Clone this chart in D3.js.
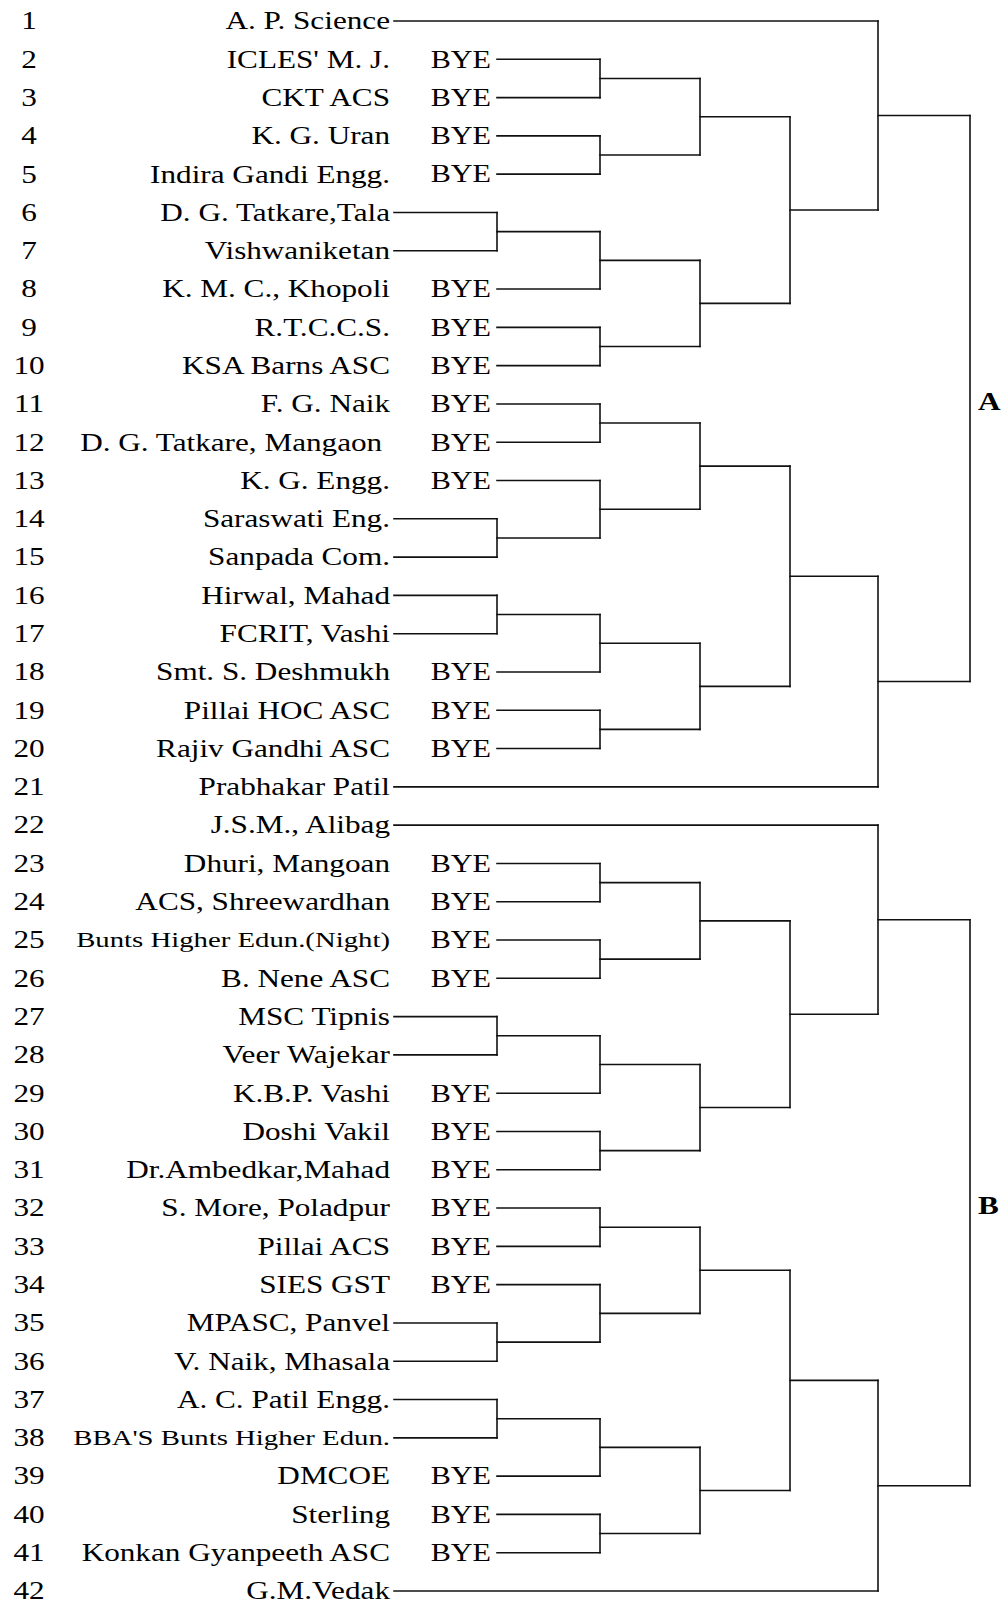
<!DOCTYPE html>
<html>
<head>
<meta charset="utf-8">
<script src="https://cdn.jsdelivr.net/npm/d3@7"></script>
<style>
  body { margin: 0; background: #fff; }
  text { font-family: "Liberation Serif", "Times New Roman", serif; fill: #000; }
</style>
</head>
<body>
<div id="chart"></div>
<script>
// team list, in draw order (row 1..42)
const teams = [
  "A. P. Science", "ICLES' M. J.", "CKT ACS", "K. G. Uran", "Indira Gandi Engg.",
  "D. G. Tatkare,Tala", "Vishwaniketan", "K. M. C., Khopoli", "R.T.C.C.S.", "KSA Barns ASC",
  "F. G. Naik", "D. G. Tatkare, Mangaon\u00a0", "K. G. Engg.", "Saraswati Eng.", "Sanpada Com.",
  "Hirwal, Mahad", "FCRIT, Vashi", "Smt. S. Deshmukh", "Pillai HOC ASC", "Rajiv Gandhi ASC",
  "Prabhakar Patil",
  "J.S.M., Alibag", "Dhuri, Mangoan", "ACS, Shreewardhan", "Bunts Higher Edun.(Night)", "B. Nene ASC",
  "MSC Tipnis", "Veer Wajekar", "K.B.P. Vashi", "Doshi Vakil", "Dr.Ambedkar,Mahad",
  "S. More, Poladpur", "Pillai ACS", "SIES GST", "MPASC, Panvel", "V. Naik, Mhasala",
  "A. C. Patil Engg.", "BBA'S Bunts Higher Edun.", "DMCOE", "Sterling", "Konkan Gyanpeeth ASC",
  "G.M.Vedak"
];

// rows that get a bye in the first round
const byeRows = [2, 3, 4, 5, 8, 9, 10, 11, 12, 13, 18, 19, 20,
                 23, 24, 25, 26, 29, 30, 31, 32, 33, 34, 39, 40, 41];

// bracket trees, leaves are row numbers
const poolA = [[1, [[[2, 3], [4, 5]], [[[6, 7], 8], [9, 10]]]],
               [[[[11, 12], [13, [14, 15]]], [[[16, 17], 18], [19, 20]]], 21]];
const poolB = [[22, [[[23, 24], [25, 26]], [[[27, 28], 29], [30, 31]]]],
               [[[[32, 33], [34, [35, 36]]], [[[37, 38], 39], [40, 41]]], 42]];
const poolLabels = ["A", "B"];

const width = 1005, height = 1606;
const fontSize = 26, stretch = 1.2;
const smallRows = new Set([25, 38]); // long names set in a smaller size
const nameEnd = 390, byeEnd = 491, numX = 29;
const byeSet = new Set(byeRows);

const rowY = d3.scaleLinear().domain([1, teams.length]).range([21, 1591]);
// rounds: 0 = play-in ... 5 = pool final
const colX = d3.scaleLinear().domain([0, 1, 2, 3, 4, 5]).range([497, 600, 700, 790, 878, 970]);

const svg = d3.select('#chart').append('svg')
  .attr('width', width)
  .attr('height', height);

svg.append('rect').attr('width', width).attr('height', height).attr('fill', '#fff');

// walk a pool and collect the bracket segments
function walk(node, depth, segs) {
  if (typeof node === 'number') {
    return { y: rowY(node), leaf: node };
  }
  const x = colX(5 - depth);
  const kids = node.map((c) => walk(c, depth + 1, segs));
  kids.forEach((k) => {
    const x0 = k.leaf ? (byeSet.has(k.leaf) ? colX(0) : nameEnd + 4) : k.x;
    segs.push({ x1: x0, y1: k.y, x2: x, y2: k.y });
  });
  segs.push({ x1: x, y1: kids[0].y, x2: x, y2: kids[1].y });
  return { x, y: (kids[0].y + kids[1].y) / 2, top: kids[0].y, bottom: kids[1].y };
}

const segments = [];
const roots = [poolA, poolB].map((p) => walk(p, 0, segments));

svg.append('g')
  .attr('class', 'bracket')
  .selectAll('line')
  .data(segments)
  .enter().append('line')
  .attr('x1', (d) => d.x1)
  .attr('y1', (d) => d.y1)
  .attr('x2', (d) => d.x2)
  .attr('y2', (d) => d.y2)
  .attr('stroke', '#111')
  .attr('stroke-width', 1.6)
  .attr('stroke-linecap', 'square');

const rows = teams.map((name, i) => ({ row: i + 1, name }));

// row numbers
svg.append('g')
  .selectAll('text')
  .data(rows)
  .enter().append('text')
  .attr('transform', (d) => `translate(${numX},${rowY(d.row)}) scale(${stretch},1)`)
  .attr('text-anchor', 'middle')
  .attr('dy', '0.32em')
  .style('font-size', fontSize + 'px')
  .text((d) => d.row);

// team names
svg.append('g')
  .selectAll('text')
  .data(rows)
  .enter().append('text')
  .attr('transform', (d) => {
    const s = smallRows.has(d.row) ? 1.37 : stretch;
    return `translate(${nameEnd},${rowY(d.row)}) scale(${s},1)`;
  })
  .attr('text-anchor', 'end')
  .attr('dy', '0.32em')
  .style('font-size', (d) => (smallRows.has(d.row) ? 21 : fontSize) + 'px')
  .text((d) => d.name);

// BYE marks
svg.append('g')
  .selectAll('text')
  .data(byeRows)
  .enter().append('text')
  .attr('transform', (d) => `translate(${byeEnd},${rowY(d)}) scale(1.16,1)`)
  .attr('text-anchor', 'end')
  .attr('dy', '0.32em')
  .style('font-size', fontSize + 'px')
  .text('BYE');

// pool labels beside the final line
svg.append('g')
  .selectAll('text')
  .data(roots)
  .enter().append('text')
  .attr('transform', (d) => `translate(${d.x + 8},${(d.top + d.bottom) / 2 + 3}) scale(${stretch},1)`)
  .attr('dy', '0.32em')
  .style('font-size', fontSize + 'px')
  .style('font-weight', 'bold')
  .text((d, i) => poolLabels[i]);
</script>
</body>
</html>
